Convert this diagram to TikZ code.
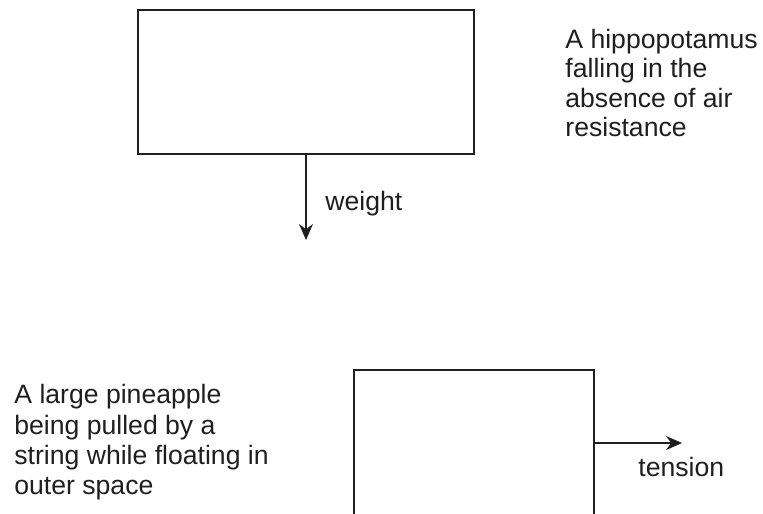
\documentclass[tikz,border=0pt]{standalone}
\usepackage{fontspec}
\setmainfont{Liberation Sans}
\usetikzlibrary{arrows.meta,positioning}

\begin{document}
\begin{tikzpicture}[
  x=0.5pt, y=-0.5pt,
  font=\fontsize{13.3}{14.6}\selectfont,
  body/.style={draw=black!88, line width=0.65pt, minimum width=168pt, minimum height=72pt, inner sep=0pt},
  force/.style={-{Stealth[length=8pt, width=7pt]}, line width=0.65pt, draw=black!88},
  note/.style={inner sep=0pt, text=black!88},
  caption/.style={inner sep=0pt, align=left, text=black!88, anchor=north west}
]
\clip (0,0) rectangle (763,513);

% falling hippo
\node[body] (hippo) at (306,82) {};
\coordinate (weighttip) at (306,240);
\draw[force] (hippo.south) -- (weighttip);
\node[note, anchor=base west] (weightlbl) at (325,210) {weight};
\node[caption] (hippotxt) at (565,29) {A hippopotamus\\falling in the\\absence of air\\resistance};

% pineapple on a string
\node[body, minimum width=120pt, minimum height=73pt] (pine) at (474,443) {};
\coordinate (tensiontip) at (682,443);
\draw[force] (pine.east) -- (tensiontip);
\node[note, anchor=base west] (tensionlbl) at (638,476) {tension};
\node[caption, font=\fontsize{13.3}{15.2}\selectfont] (pinetxt) at (14,384) {A large pineapple\\being pulled by a\\string while floating in\\outer space};

\end{tikzpicture}
\end{document}
